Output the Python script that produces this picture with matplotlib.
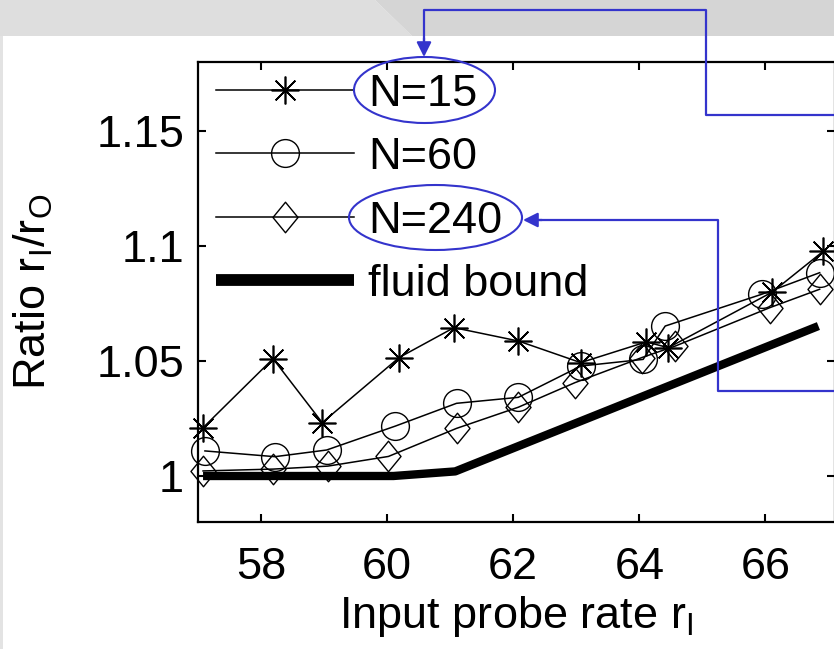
import numpy as np
import matplotlib as mpl
mpl.use('Agg')
import matplotlib.pyplot as plt
from matplotlib.path import Path
from matplotlib.patches import Ellipse, Polygon, Rectangle, FancyArrowPatch
from matplotlib.lines import Line2D

plt.rcParams['font.family'] = ['Liberation Sans', 'DejaVu Sans']
plt.rcParams['mathtext.fontset'] = 'custom'
plt.rcParams['mathtext.rm'] = 'Liberation Sans'

# values
x_n15 = [57.08, 58.19, 58.97, 60.19, 61.06, 62.08, 63.07, 64.11, 64.46, 66.11, 66.92]
y_n15 = [1.0210, 1.0510, 1.0232, 1.0515, 1.0645, 1.0587, 1.0493, 1.0583, 1.0558, 1.0800, 1.0978]
x_n60 = [57.11, 58.22, 59.04, 60.13, 61.10, 62.08, 63.07, 64.06, 64.41, 65.94, 66.86]
y_n60 = [1.0109, 1.0084, 1.0113, 1.0217, 1.0316, 1.0342, 1.0478, 1.0507, 1.0652, 1.0790, 1.0884]
x_n240 = [57.08, 58.19, 59.06, 60.02, 61.10, 62.08, 62.98, 64.04, 64.57, 66.07, 66.86]
y_n240 = [1.0022, 1.0030, 1.0043, 1.0085, 1.0207, 1.0299, 1.0406, 1.0515, 1.0565, 1.0732, 1.0812]
x_fluid = [57.08, 60.10, 61.08, 66.84]
y_fluid = [1.0, 1.0, 1.002, 1.0652]

labels = ['N=15', 'N=60', 'N=240', 'fluid bound']
xticks = [58, 60, 62, 64, 66]
yticks = [1.0, 1.05, 1.1, 1.15]
ytick_labels = ['1', '1.05', '1.1', '1.15']

W, H = 834, 649
blue = '#3434cc'
fs = 32.5

def fx(p):
    return p / W

def fy(p):
    return 1 - p / H

fig = plt.figure(figsize=(W / 100, H / 100), dpi=100)

# slide background pieces
fig.add_artist(Polygon([(0, fy(0)), (fx(375), fy(0)), (fx(412), fy(36)), (0, fy(36))],
                       closed=True, transform=fig.transFigure, fc='#dedede', ec='none', zorder=-2))
fig.add_artist(Polygon([(fx(375), fy(0)), (1, fy(0)), (1, fy(36)), (fx(412), fy(36))],
                       closed=True, transform=fig.transFigure, fc='#d5d5d5', ec='none', zorder=-2))
fig.add_artist(Rectangle((0, 0), fx(3), fy(36), transform=fig.transFigure,
                         fc='#e3e3e3', ec='none', zorder=-2))

ax = fig.add_axes([fx(198), fy(522), (835 - 198) / W, 460 / H])

diamond = Path([(0, 1), (0.82, 0), (0, -1), (-0.82, 0), (0, 1)],
               [Path.MOVETO, Path.LINETO, Path.LINETO, Path.LINETO, Path.CLOSEPOLY])

l1, = ax.plot(x_n15, y_n15, color='k', lw=1.1, marker=(8, 2, 0), ms=20, mew=1.2, clip_on=False)
l2, = ax.plot(x_n60, y_n60, color='k', lw=1.1, marker='o', ms=20, mfc='none', mew=1.0, clip_on=False)
l3, = ax.plot(x_n240, y_n240, color='k', lw=1.1, marker=diamond, ms=22, mfc='none', mew=1.0,
              clip_on=False)
ax.plot(x_fluid, y_fluid, color='k', lw=6, solid_capstyle='butt')
l4 = Line2D([], [], color='k', lw=8.5, solid_capstyle='butt')

ax.set_xlim(57, 57 + 637 / 63.05)
ax.set_ylim(0.98, 1.18)
ax.set_xticks(xticks)
ax.set_yticks(yticks)
ax.set_yticklabels(ytick_labels)
ax.tick_params(direction='in', top=True, right=True, length=6, width=1.5, labelsize=fs)
ax.tick_params(axis='x', pad=18)
ax.tick_params(axis='y', pad=10)
for s in ax.spines.values():
    s.set_linewidth(1.6)

ax.set_xlabel(r'Input probe rate r$_\mathregular{I}$', fontsize=fs, labelpad=4)
ax.set_ylabel(r'Ratio r$_\mathregular{I}$/r$_\mathregular{O}$', fontsize=fs, labelpad=30)

ax.legend([l1, l2, l3, l4], labels, loc='upper left', bbox_to_anchor=(0.028, 0.975),
          frameon=False, fontsize=fs, handlelength=3.05, handletextpad=0.33,
          labelspacing=0.5, borderpad=0, borderaxespad=0, numpoints=1)

# blue call-outs
def ellipse(cx, cy, w, h):
    fig.add_artist(Ellipse((fx(cx), fy(cy)), w / W, h / H, transform=fig.transFigure,
                           fill=False, ec=blue, lw=1.5, zorder=5))

def polyline(pts):
    fig.add_artist(Line2D([fx(p[0]) for p in pts], [fy(p[1]) for p in pts],
                          transform=fig.transFigure, color=blue, lw=1.6, zorder=5))

def head(start, tip):
    fig.add_artist(FancyArrowPatch((fx(start[0]), fy(start[1])), (fx(tip[0]), fy(tip[1])),
                                   transform=fig.transFigure, arrowstyle='-|>', mutation_scale=22,
                                   color=blue, lw=1.6, shrinkA=0, shrinkB=0, zorder=5))

ellipse(424.5, 90, 141, 66)
ellipse(435.5, 217.5, 173, 65)
polyline([(840, 115), (706, 115), (706, 10), (424, 10), (424, 40)])
head((424, 38), (424, 57))
polyline([(840, 391), (718, 391), (718, 220), (540, 220)])
head((542, 220), (523, 220))

fig.savefig('out.png', dpi=100)
